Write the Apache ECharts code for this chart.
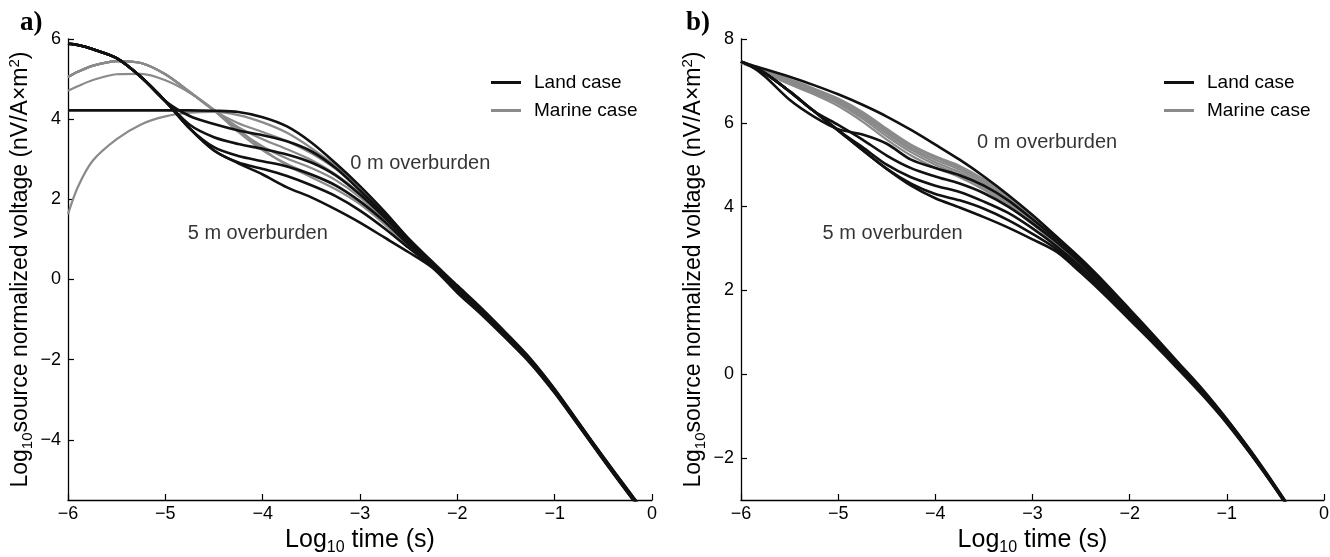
<!DOCTYPE html>
<html>
<head>
<meta charset="utf-8">
<script src="https://cdn.jsdelivr.net/npm/echarts@6/dist/echarts.min.js"></script>
<style>
html,body{margin:0;padding:0;background:#fff;}
#chart{width:1330px;height:557px;}
</style>
</head>
<body>
<div id="chart"></div>
<script>
"use strict";

/*****Data*****/
// log10 time (s), shared sample points
var logTime = [-6, -5.9, -5.75, -5.5, -5.25, -5, -4.75, -4.5, -4.25, -4, -3.75, -3.5, -3.25, -3, -2.75, -2.5, -2.25, -2, -1.75, -1.5, -1.25, -1, -0.75, -0.5, -0.25, -0.1];

// panel a) land case, 0..5 m overburden
var landA0 = [4.22,4.22,4.22,4.22,4.22,4.22,4.22,4.21,4.18,4.05,3.82,3.42,2.9,2.33,1.7,1.02,0.42,-0.15,-0.72,-1.33,-1.97,-2.73,-3.58,-4.42,-5.24,-5.72];
var landA1 = [5.88,5.85,5.75,5.52,5.05,4.45,4.08,3.88,3.72,3.6,3.45,3.2,2.78,2.22,1.62,0.98,0.4,-0.18,-0.75,-1.36,-2.0,-2.75,-3.6,-4.44,-5.26,-5.74];
var landA2 = [5.88,5.85,5.75,5.52,5.05,4.45,3.86,3.55,3.38,3.26,3.12,2.92,2.6,2.12,1.55,0.93,0.37,-0.22,-0.78,-1.39,-2.02,-2.77,-3.61,-4.45,-5.27,-5.75];
var landA3 = [5.88,5.85,5.75,5.52,5.05,4.45,3.77,3.3,3.08,2.95,2.82,2.62,2.35,1.95,1.45,0.87,0.34,-0.25,-0.81,-1.42,-2.04,-2.79,-3.63,-4.47,-5.29,-5.77];
var landA4 = [5.88,5.85,5.75,5.52,5.05,4.45,3.77,3.22,2.92,2.76,2.58,2.35,2.08,1.72,1.28,0.79,0.31,-0.29,-0.84,-1.45,-2.06,-2.81,-3.65,-4.49,-5.31,-5.79];
var landA5 = [5.88,5.85,5.75,5.52,5.05,4.45,3.77,3.22,2.9,2.62,2.3,2.05,1.75,1.42,1.05,0.68,0.28,-0.33,-0.88,-1.47,-2.09,-2.83,-3.66,-4.5,-5.32,-5.8];

// panel a) marine case
var marA0 = [1.63,2.3,2.95,3.5,3.87,4.07,4.16,4.18,4.1,3.92,3.66,3.28,2.83,2.28,1.68,1.02,0.44,-0.17,-0.74,-1.35,-1.98,-2.74,-3.59,-4.43,-5.25,-5.73];
var marA1 = [5.05,5.18,5.33,5.45,5.4,5.12,4.68,4.22,3.9,3.68,3.45,3.15,2.76,2.24,1.64,1.0,0.42,-0.19,-0.76,-1.37,-2.01,-2.76,-3.6,-4.44,-5.26,-5.74];
var marA2 = [5.05,5.18,5.33,5.45,5.4,5.12,4.68,4.22,3.8,3.5,3.25,2.98,2.62,2.15,1.57,0.95,0.39,-0.21,-0.78,-1.39,-2.02,-2.77,-3.61,-4.45,-5.27,-5.75];
var marA3 = [5.05,5.18,5.33,5.45,5.4,5.12,4.68,4.22,3.72,3.32,3.02,2.78,2.48,2.05,1.5,0.91,0.36,-0.24,-0.8,-1.41,-2.03,-2.78,-3.62,-4.46,-5.28,-5.76];
var marA4 = [5.05,5.18,5.33,5.45,5.4,5.12,4.68,4.22,3.68,3.22,2.88,2.62,2.34,1.95,1.43,0.86,0.33,-0.27,-0.83,-1.43,-2.05,-2.8,-3.64,-4.48,-5.3,-5.78];
var marA5 = [4.71,4.82,4.97,5.12,5.13,4.97,4.66,4.24,3.75,3.25,2.85,2.55,2.25,1.88,1.38,0.82,0.31,-0.31,-0.86,-1.46,-2.08,-2.82,-3.65,-4.49,-5.31,-5.79];

// panel b) land case
var landB0 = [7.46,7.38,7.28,7.1,6.9,6.68,6.43,6.15,5.83,5.48,5.12,4.72,4.28,3.8,3.28,2.75,2.17,1.55,0.92,0.28,-0.36,-1.07,-1.84,-2.67,-3.55,-4.12];
var landB1 = [7.46,7.36,7.1,6.55,6.15,5.85,5.72,5.5,5.12,4.92,4.75,4.5,4.15,3.7,3.22,2.7,2.12,1.5,0.88,0.25,-0.39,-1.09,-1.86,-2.69,-3.57,-4.14];
var landB2 = [7.46,7.36,7.18,6.75,6.28,5.95,5.6,5.22,4.92,4.72,4.55,4.32,4.0,3.6,3.15,2.64,2.07,1.45,0.84,0.22,-0.42,-1.11,-1.88,-2.7,-3.58,-4.15];
var landB3 = [7.46,7.36,7.18,6.75,6.28,5.82,5.42,5.0,4.7,4.5,4.35,4.12,3.85,3.48,3.05,2.56,2.0,1.4,0.8,0.18,-0.45,-1.13,-1.9,-2.71,-3.59,-4.16];
var landB4 = [7.46,7.36,7.18,6.75,6.28,5.82,5.35,4.9,4.55,4.3,4.15,3.95,3.68,3.35,2.98,2.49,1.94,1.35,0.76,0.15,-0.47,-1.15,-1.91,-2.72,-3.6,-4.17];
var landB5 = [7.46,7.36,7.18,6.75,6.28,5.82,5.35,4.9,4.5,4.2,3.98,3.75,3.5,3.22,2.92,2.42,1.88,1.3,0.72,0.12,-0.5,-1.17,-1.92,-2.73,-3.61,-4.18];

// panel b) marine case
var marB0 = [7.47,7.39,7.26,7.04,6.82,6.58,6.26,5.86,5.48,5.2,4.97,4.65,4.25,3.77,3.25,2.73,2.15,1.53,0.9,0.27,-0.37,-1.08,-1.85,-2.68,-3.56,-4.13];
var marB1 = [7.46,7.38,7.25,7.02,6.8,6.55,6.22,5.82,5.45,5.17,4.93,4.6,4.2,3.73,3.22,2.7,2.13,1.51,0.89,0.26,-0.38,-1.08,-1.85,-2.68,-3.56,-4.13];
var marB2 = [7.45,7.37,7.24,7.0,6.78,6.53,6.19,5.78,5.4,5.12,4.88,4.55,4.16,3.7,3.2,2.68,2.1,1.49,0.87,0.24,-0.4,-1.1,-1.87,-2.69,-3.57,-4.14];
var marB3 = [7.44,7.36,7.22,6.98,6.76,6.5,6.15,5.74,5.36,5.06,4.82,4.5,4.12,3.66,3.17,2.65,2.08,1.47,0.85,0.23,-0.41,-1.1,-1.87,-2.7,-3.58,-4.15];
var marB4 = [7.43,7.35,7.2,6.95,6.72,6.46,6.1,5.68,5.3,5.0,4.76,4.45,4.08,3.62,3.13,2.62,2.05,1.44,0.83,0.21,-0.43,-1.12,-1.88,-2.7,-3.58,-4.15];
var marB5 = [7.42,7.34,7.18,6.92,6.68,6.4,6.03,5.6,5.22,4.93,4.7,4.4,4.03,3.58,3.1,2.59,2.02,1.42,0.81,0.19,-0.44,-1.13,-1.89,-2.71,-3.59,-4.16];

// tick values and text notes
var ticksA = [-4, -2, 0, 2, 4, 6];
var ticksB = [-2, 0, 2, 4, 6, 8];
var notesA = [[-3.1, 2.9, '0 m overburden'], [-4.77, 1.15, '5 m overburden']];
var notesB = [[-3.57, 5.52, '0 m overburden'], [-5.16, 3.37, '5 m overburden']];

/*****Chart*****/
var FONT = "'Liberation Sans', Arial, Helvetica, sans-serif";
var SERIF = "'Liberation Serif', 'Times New Roman', serif";
var landColor = '#111111';
var marineColor = '#8a8a8a';

function pairs(vals) {
	return logTime.map(function (t, i) { return [t, vals[i]]; });
}
function minus(v) {
	return String(v).replace('-', '\u2212');
}
function curve(name, vals, idx) {
	var land = name === 'Land case';
	return {
		name: name,
		type: 'line',
		xAxisIndex: idx,
		yAxisIndex: idx,
		data: pairs(vals),
		symbol: 'none',
		smooth: 0.3,
		silent: true,
		clip: true,
		z: land ? 3 : 2,
		lineStyle: { color: land ? landColor : marineColor, width: land ? 2.6 : 2.2 },
		itemStyle: { color: land ? landColor : marineColor }
	};
}
function notes(list, idx) {
	return {
		type: 'scatter',
		xAxisIndex: idx,
		yAxisIndex: idx,
		symbolSize: 0,
		silent: true,
		data: list.map(function (n) { return { value: [n[0], n[1]], label: { formatter: n[2] } }; }),
		label: { show: true, position: 'right', distance: 0, color: '#000', fontSize: 20, fontFamily: FONT }
	};
}
function richOf(size) {
	var sub = Math.round(size * 0.65);
	return {
		n: { fontSize: size, lineHeight: size + 5, fontFamily: FONT, color: '#000', verticalAlign: 'middle' },
		sub: { fontSize: sub, lineHeight: sub, fontFamily: FONT, color: '#000', verticalAlign: 'bottom' },
		sup: { fontSize: sub, lineHeight: sub, fontFamily: FONT, color: '#000', verticalAlign: 'top' }
	};
}
var yName = '{n|Log}{sub|10}{n|source normalized voltage (nV/A\u00d7m}{sup|2}{n|)}';
var xName = '{n|Log}{sub|10}{n| time (s)}';

function xAxisOf(idx) {
	return {
		type: 'value', gridIndex: idx, min: -6, max: 0, interval: 1,
		axisLine: { onZero: false, lineStyle: { color: '#000', width: 1.3 } },
		axisTick: { inside: true, length: 6, lineStyle: { color: '#000', width: 1.2 } },
		axisLabel: { color: '#000', fontSize: 18, fontFamily: FONT, margin: 5, formatter: minus },
		splitLine: { show: false },
		name: xName, nameLocation: 'middle', nameGap: 25,
		nameTextStyle: { rich: richOf(25) }
	};
}
function yAxisOf(idx, lo, hi, ticks) {
	return {
		type: 'value', gridIndex: idx, min: lo, max: hi,
		axisLine: { show: true, onZero: false, lineStyle: { color: '#000', width: 1.3 } },
		axisTick: { inside: true, length: 6, customValues: ticks, lineStyle: { color: '#000', width: 1.2 } },
		axisLabel: { color: '#000', fontSize: 18, fontFamily: FONT, margin: 7, customValues: ticks, formatter: minus },
		splitLine: { show: false },
		name: yName, nameLocation: 'middle', nameGap: 33,
		nameTextStyle: { rich: richOf(23) }
	};
}
function legendAt(x) {
	return {
		left: x, top: 68, orient: 'vertical', itemGap: 9, itemWidth: 30, itemHeight: 3,
		icon: 'rect',
		selectedMode: false,
		data: ['Land case', 'Marine case'],
		textStyle: { color: '#000', fontSize: 19, fontFamily: FONT, padding: [0, 0, 0, 8] }
	};
}

var seriesList = [
	curve('Marine case', marA0, 0), curve('Marine case', marA1, 0), curve('Marine case', marA2, 0),
	curve('Marine case', marA3, 0), curve('Marine case', marA4, 0), curve('Marine case', marA5, 0),
	curve('Land case', landA0, 0), curve('Land case', landA1, 0), curve('Land case', landA2, 0),
	curve('Land case', landA3, 0), curve('Land case', landA4, 0), curve('Land case', landA5, 0),
	curve('Marine case', marB0, 1), curve('Marine case', marB1, 1), curve('Marine case', marB2, 1),
	curve('Marine case', marB3, 1), curve('Marine case', marB4, 1), curve('Marine case', marB5, 1),
	curve('Land case', landB0, 1), curve('Land case', landB1, 1), curve('Land case', landB2, 1),
	curve('Land case', landB3, 1), curve('Land case', landB4, 1), curve('Land case', landB5, 1),
	notes(notesA, 0), notes(notesB, 1)
];

var chart = echarts.init(document.getElementById('chart'));
chart.setOption({
	animation: false,
	backgroundColor: '#fff',
	title: [
		{ text: 'a)', left: 15, top: 5, textStyle: { fontFamily: SERIF, fontWeight: 'bold', fontSize: 27, color: '#000' } },
		{ text: 'b)', left: 681, top: 5, textStyle: { fontFamily: SERIF, fontWeight: 'bold', fontSize: 27, color: '#000' } }
	],
	legend: [legendAt(486), legendAt(1159)],
	grid: [
		{ left: 68, top: 39, width: 584, height: 461, outerBoundsMode: 'none' },
		{ left: 741, top: 39, width: 583, height: 461, outerBoundsMode: 'none' }
	],
	xAxis: [xAxisOf(0), xAxisOf(1)],
	yAxis: [yAxisOf(0, -5.5, 6, ticksA), yAxisOf(1, -3, 8, ticksB)],
	series: seriesList
});
</script>
</body>
</html>
